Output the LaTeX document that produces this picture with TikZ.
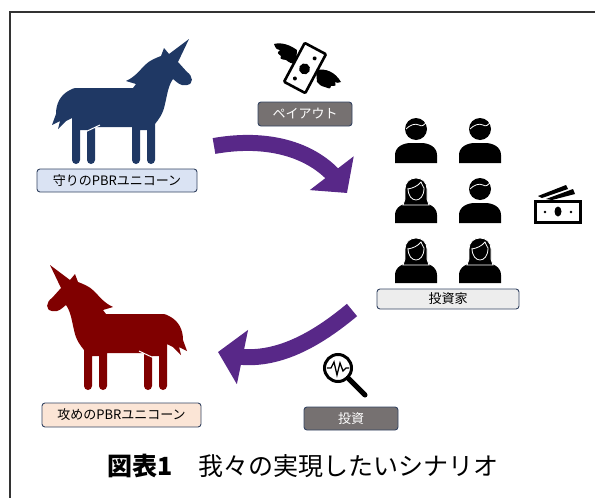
\documentclass[tikz,border=0pt]{standalone}
\usepackage{fontspec}
\setmainfont{Noto Sans CJK JP}
\usepackage{xcolor}
\usetikzlibrary{arrows.meta,bending}

\definecolor{unicornblue}{RGB}{31,56,100}
\definecolor{unicornred}{RGB}{128,0,0}
\definecolor{flowpurple}{RGB}{88,40,136}
\definecolor{tagline}{RGB}{52,68,98}
\definecolor{taggray}{RGB}{118,113,113}
\definecolor{tagblue}{RGB}{218,227,243}
\definecolor{tagpeach}{RGB}{251,229,214}
\definecolor{taglight}{RGB}{237,237,237}

\tikzstyle{tag} = [rectangle, rounded corners=3pt, draw=tagline, line width=0.9pt, inner sep=0pt, text centered, font=\fontsize{13}{15}\selectfont]
\tikzstyle{darktag} = [tag, fill=taggray, text=white]
\tikzstyle{flow} = [line width=16pt, draw=flowpurple, -{Triangle[width=54pt,length=25pt]}]

% silhouettes, drawn in picture coordinates (y grows downwards)
\tikzset{
  pics/unicorn/.style={code={
    \fill (189,39) -- (178,62) -- (187,72) .. controls (193,76) and (194,84) .. (187,85)
      -- (182,85) .. controls (178,84) and (176,81) .. (173,79)
      .. controls (168,86) and (167,96) .. (165,104) .. controls (163,114) and (159,119) .. (155,124)
      -- (155,160) arc[start angle=0, end angle=180, radius=4] -- (147,130) -- (140,130)
      -- (140,160) arc[start angle=0, end angle=180, radius=4] -- (132,127) -- (95,127)
      -- (95,160) arc[start angle=0, end angle=180, radius=4] -- (87,130) -- (80,130)
      -- (80,160) arc[start angle=0, end angle=180, radius=4] -- (72,118)
      -- (66,121) -- (58,129) -- (60,121) -- (52,125) -- (56,114)
      .. controls (56,104) and (60,95) .. (70,90) .. controls (74,88) .. (80,88) -- (133,88)
      -- (136,84) -- (126,81)
      .. controls (135,77) and (140,70) .. (145,65) .. controls (150,60) and (156,58) .. (161,56)
      -- (164,48) -- (169,54) -- cycle;
    \draw[white, line width=1pt] (83,133) -- (100,125);
  }},
  pics/man/.style={code={
    \fill (-21,45) -- (-21,37) .. controls (-21,29) and (-13,25) .. (-5,25) -- (5,25)
      .. controls (13,25) and (21,29) .. (21,37) -- (21,45) -- cycle;
    \fill (0,11) circle[radius=11];
    \draw[white, line width=0.8pt] (-10,11) .. controls (-6,7) and (-1,5) .. (3,7)
      .. controls (6,9) and (8,7) .. (10,5);
  }},
  pics/woman/.style={code={
    \fill (-21,45) -- (-21,37) .. controls (-21,29) and (-13,25) .. (-5,25) -- (5,25)
      .. controls (13,25) and (21,29) .. (21,37) -- (21,45) -- cycle;
    \filldraw[draw=white, line width=0.8pt] (-13,27) -- (-11,21) -- (-11,11)
      .. controls (-11,4) and (-6,0) .. (0,0) .. controls (6,0) and (11,4) .. (11,11)
      -- (11,21) -- (13,27) -- cycle;
    \draw[white, line width=0.8pt] (-8,10) .. controls (-8,18) and (-4,22) .. (0,22)
      .. controls (4,22) and (8,18) .. (8,10);
    \draw[white, line width=0.8pt] (-8,11) .. controls (-3,10) and (2,8) .. (5,4)
      .. controls (6,7) and (7,8) .. (8,10);
  }}
}

\begin{document}
\begin{tikzpicture}[x=1pt, y=-1pt]
\useasboundingbox (0,0) rectangle (595,498);
\draw[line width=1.3pt, black!80] (10,498) -- (10,12) -- (595,12);

% the two unicorns
\pic[unicornblue] at (0,0) {unicorn};
\pic[unicornred, xscale=-1] at (239,226) {unicorn};

\node (guard) [tag, fill=tagblue, minimum width=160pt, minimum height=23pt] at (117,180.5) {守りのPBRユニコーン};
\node (attack) [tag, fill=tagpeach, minimum width=159pt, minimum height=24pt] at (121.5,415) {攻めのPBRユニコーン};

% investors
\pic at (416,118) {man};
\pic at (480,118) {man};
\pic at (416,178) {woman};
\pic at (480,178) {man};
\pic at (416,238) {woman};
\pic at (480,238) {woman};
\node (investors) [tag, fill=taglight, minimum width=142pt, minimum height=20pt] at (448,299) {投資家};

% cash on the right
\fill (538,196) -- (566,185) -- (568,189) -- (542,198) -- cycle;
\fill (546,199) -- (573,189) -- (575,194) -- (552,200) -- cycle;
\draw[line width=3pt, fill=white] (535,201) rectangle (580,222);
\fill (558,211.5) ellipse[x radius=3.5, y radius=5];
\fill (545,212) circle[radius=1.4] (571,212) circle[radius=1.4];

% flying bill
\fill (297,50) .. controls (290,45) and (282,42) .. (274,44) .. controls (276,49) .. (280,50)
  .. controls (277,53) .. (281,56) .. controls (280,59) .. (286,60)
  .. controls (290,63) .. (296,64) -- cycle;
\fill (316,70) .. controls (326,68) and (335,72) .. (341,82) .. controls (337,83) .. (335,82)
  .. controls (336,86) .. (331,86) .. controls (330,89) .. (325,87)
  .. controls (321,86) .. (317,82) -- cycle;
\begin{scope}[shift={(305,68)}, rotate=-28]
  \draw[line width=2.6pt, fill=white, rounded corners=1pt] (-12,-22) rectangle (12,22);
  \fill (0,1) circle[radius=5.5];
  \fill (4,-13) circle[radius=2] (-4,14) circle[radius=2];
\end{scope}
\node (payout) [darktag, minimum width=94pt, minimum height=24pt] at (305,114) {ペイアウト};

% magnifier
\draw[line width=3pt] (338,368) circle[radius=13.5];
\draw[line width=5pt, line cap=round] (348,378) -- (365,395);
\draw[line width=1.3pt] (327,368) -- (331,368) -- (334,362) -- (337,375) -- (340,363) -- (343,371) -- (346,368) -- (349,368);
\node (invest) [darktag, minimum width=94pt, minimum height=23pt] at (351,418.5) {投資};

% flows
\coordinate (payFrom) at (214,146);
\coordinate (payTo) at (347,193);
\coordinate (investFrom) at (352,310);
\coordinate (investTo) at (218,352);
\draw[flow] (payFrom) .. controls (270,136) and (322,150) .. (payTo);
\draw[flow] (investFrom) .. controls (310,345) and (265,368) .. (investTo);

\node (caption) at (303,466) {\fontsize{25}{28}\selectfont\textbf{図表1}　我々の実現したいシナリオ};
\end{tikzpicture}
\end{document}
